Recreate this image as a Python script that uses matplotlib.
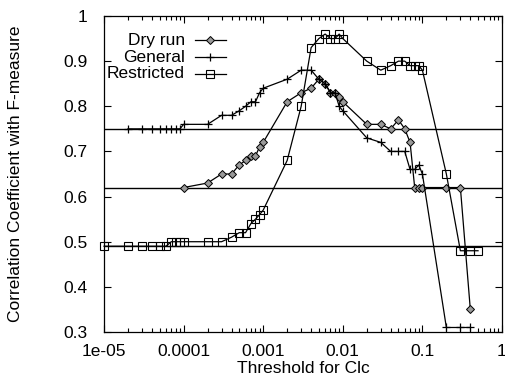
import matplotlib
matplotlib.use("Agg")
import matplotlib.pyplot as plt
from matplotlib.ticker import FixedLocator, NullFormatter, LogLocator
from matplotlib.lines import Line2D

plt.rcParams['font.family'] = ['Liberation Sans', 'DejaVu Sans']

dry_x = [1e-4, 2e-4, 3e-4, 4e-4, 5e-4, 6e-4, 7e-4, 8e-4, 9e-4, 1e-3,
         2e-3, 3e-3, 4e-3, 5e-3, 6e-3, 7e-3, 8e-3, 9e-3, 1e-2,
         2e-2, 3e-2, 4e-2, 5e-2, 6e-2, 7e-2, 8e-2, 9e-2, 0.1, 0.2, 0.3, 0.4]
dry_y = [0.62, 0.63, 0.65, 0.65, 0.67, 0.68, 0.69, 0.69, 0.71, 0.72,
         0.81, 0.83, 0.84, 0.86, 0.85, 0.83, 0.83, 0.82, 0.81,
         0.76, 0.76, 0.75, 0.77, 0.75, 0.72, 0.62, 0.62, 0.62, 0.62, 0.62, 0.35]

gen_x = [2e-5, 3e-5, 4e-5, 5e-5, 6e-5, 7e-5, 8e-5, 9e-5, 1e-4,
         2e-4, 3e-4, 4e-4, 5e-4, 6e-4, 7e-4, 8e-4, 9e-4, 1e-3,
         2e-3, 3e-3, 4e-3, 5e-3, 6e-3, 7e-3, 8e-3, 9e-3, 1e-2,
         2e-2, 3e-2, 4e-2, 5e-2, 6e-2, 7e-2, 8e-2, 9e-2, 0.1, 0.2, 0.3, 0.4]
gen_y = [0.75, 0.75, 0.75, 0.75, 0.75, 0.75, 0.75, 0.75, 0.76,
         0.76, 0.78, 0.78, 0.79, 0.80, 0.81, 0.81, 0.83, 0.84,
         0.86, 0.88, 0.88, 0.86, 0.85, 0.83, 0.83, 0.80, 0.79,
         0.73, 0.72, 0.70, 0.70, 0.70, 0.66, 0.66, 0.67, 0.65, 0.31, 0.31, 0.31]

res_x = [1e-5, 2e-5, 3e-5, 4e-5, 5e-5, 6e-5, 7e-5, 8e-5, 9e-5, 1e-4,
         2e-4, 3e-4, 4e-4, 5e-4, 6e-4, 7e-4, 8e-4, 9e-4, 1e-3,
         2e-3, 3e-3, 4e-3, 5e-3, 6e-3, 7e-3, 8e-3, 9e-3, 1e-2,
         2e-2, 3e-2, 4e-2, 5e-2, 6e-2, 7e-2, 8e-2, 9e-2, 0.1, 0.2, 0.3, 0.4, 0.5]
res_y = [0.49, 0.49, 0.49, 0.49, 0.49, 0.49, 0.50, 0.50, 0.50, 0.50,
         0.50, 0.50, 0.51, 0.52, 0.52, 0.54, 0.55, 0.56, 0.57,
         0.68, 0.80, 0.93, 0.95, 0.96, 0.95, 0.95, 0.96, 0.95,
         0.90, 0.88, 0.89, 0.90, 0.90, 0.89, 0.89, 0.89, 0.88, 0.65, 0.48, 0.48, 0.48]

baselines = [0.75, 0.62, 0.49]

x_ticks = [1e-5, 1e-4, 1e-3, 1e-2, 1e-1, 1]
x_labels = ["1e-05", "0.0001", "0.001", "0.01", "0.1", "1"]
y_ticks = [0.3, 0.4, 0.5, 0.6, 0.7, 0.8, 0.9, 1.0]
y_labels = ["0.3", "0.4", "0.5", "0.6", "0.7", "0.8", "0.9", "1"]

fig = plt.figure(figsize=(5.05, 3.75), dpi=100)
ax = fig.add_axes([104/505, 1-332/375, (502-104)/505, (332-16)/375])
ax.set_xscale('log')
ax.set_xlim(1e-5, 1)
ax.set_ylim(0.3, 1.0)

for b in baselines:
    ax.axhline(b, color='black', lw=1.0)

styles = [
    ("Dry run", dry_x, dry_y, dict(marker='D', markersize=3.8, markerfacecolor='#999999', markeredgecolor='black', markeredgewidth=0.7)),
    ("General", gen_x, gen_y, dict(marker='+', markersize=6, markeredgewidth=0.9, markeredgecolor='black')),
    ("Restricted", res_x, res_y, dict(marker='s', markersize=5.5, markerfacecolor='none', markeredgecolor='black', markeredgewidth=0.8)),
]
for name, xs, ys, st in styles:
    ax.plot(xs, ys, color='black', lw=0.9, clip_on=False, **st)

ax.xaxis.set_major_locator(FixedLocator(x_ticks))
ax.set_xticklabels(x_labels)
ax.xaxis.set_minor_locator(LogLocator(base=10, subs=range(2, 10)))
ax.xaxis.set_minor_formatter(NullFormatter())
ax.set_yticks(y_ticks)
ax.set_yticklabels(y_labels)
ax.tick_params(which='both', direction='in', top=True, right=True, labelsize=12.5)
ax.tick_params(which='major', length=5, width=0.8)
ax.tick_params(which='minor', length=3, width=0.8)
ax.tick_params(axis='x', pad=9)
ax.tick_params(axis='y', pad=12)

ax.set_xlabel("Threshold for Clc", fontsize=12.5, labelpad=1)
ax.set_ylabel("Correlation Coefficient with F-measure", fontsize=12.5, labelpad=29)

# legend (gnuplot style: right aligned text, sample on the right)
W, H = 398, 316
def ax_coords(px, py):
    return (px - 104) / W, (332 - py) / H
for i, (name, xs, ys, st) in enumerate(styles):
    py = 40 + i * 17
    tx, ty = ax_coords(185, py)
    ax.text(tx, ty, name, transform=ax.transAxes, ha='right', va='center', fontsize=12.5)
    x0, yy = ax_coords(195, py)
    x1, _ = ax_coords(226, py)
    xm, _ = ax_coords(210, py)
    ax.add_line(Line2D([x0, x1], [yy, yy], transform=ax.transAxes, color='black', lw=0.9))
    ax.add_line(Line2D([xm], [yy], transform=ax.transAxes, color='black', lw=0, **st))

for s in ax.spines.values():
    s.set_linewidth(0.9)

fig.savefig("out.png", dpi=100)
